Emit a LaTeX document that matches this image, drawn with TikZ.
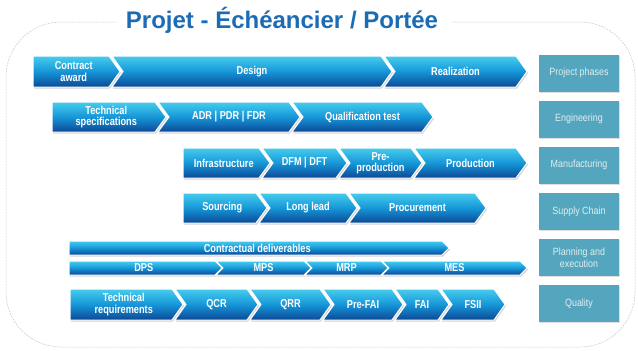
\documentclass[tikz,border=0pt]{standalone}
\usepackage{fontspec}
\setmainfont{Liberation Sans}
\newfontfamily\narrowfont{Liberation Sans}[FakeStretch=0.85]
\newfontfamily\chevfont{Liberation Sans}[FakeStretch=0.8]
\usetikzlibrary{shadows}

\definecolor{titleblue}{RGB}{27,107,181}
\definecolor{chevtop}{RGB}{70,205,238}
\definecolor{chevmid}{RGB}{22,150,215}
\definecolor{chevbot}{RGB}{12,72,150}
\definecolor{boxteal}{RGB}{84,166,190}
\definecolor{boxtext}{RGB}{225,238,242}
\definecolor{framegray}{RGB}{185,200,216}

\tikzset{
  chevbody/.style={draw=white, line width=1pt, top color=chevtop, bottom color=chevbot,
    middle color=chevmid, drop shadow={opacity=0.35, shadow xshift=1pt, shadow yshift=-1.5pt}},
  chevtext/.style={text=white, align=center, font=\chevfont\bfseries\fontsize{11.5}{11.5}\selectfont},
  phasebox/.style={fill=boxteal, minimum width=80pt, minimum height=37pt, text=boxtext,
    align=center, font=\narrowfont\fontsize{10.5}{12}\selectfont,
    drop shadow={opacity=0.25, shadow xshift=1pt, shadow yshift=-1pt}}
}

% chevron with notch: name, left, tip, top, bottom, depth, text
\newcommand{\chev}[7]{%
  \draw[chevbody] (#2,-#4) -- ({#3-#6},-#4) -- (#3,{-(#4+#5)/2}) -- ({#3-#6},-#5)
    -- (#2,-#5) -- ({#2+#6},{-(#4+#5)/2}) -- cycle;
  \node[chevtext] (#1) at ({(#2+#3)/2},{-(#4+#5)/2}) {#7};}
% first chevron of a row, flat left side
\newcommand{\firstchev}[7]{%
  \draw[chevbody] (#2,-#4) -- ({#3-#6},-#4) -- (#3,{-(#4+#5)/2}) -- ({#3-#6},-#5)
    -- (#2,-#5) -- cycle;
  \node[chevtext] (#1) at ({(#2+#3)/2-#6/4},{-(#4+#5)/2}) {#7};}

\begin{document}
\begin{tikzpicture}[x=1pt, y=1pt]
	\useasboundingbox (0,0) rectangle (638,-351);
	% frame
	\draw[framegray, line width=0.5pt, dash pattern=on 2pt off 1pt, rounded corners=55pt]
		(116,-22) -- (6,-22) -- (6,-347) -- (635,-347) -- (635,-22) -- (452,-22);
	\node[text=titleblue, font=\bfseries\fontsize{24}{26}\selectfont] (title) at (282,-20)
		{Projet - Échéancier / Portée};

	% project phases
	\firstchev{award}{33}{120}{56}{87}{11}{Contract\\award}
	\foreach \n/\a/\b/\t in {design/112/392/Design, real/384/527/Realization}
		\chev{\n}{\a}{\b}{56}{87}{11}{\t};
	% engineering
	\firstchev{spec}{52}{166}{102}{132}{11}{Technical\\specifications}
	\foreach \n/\a/\b/\t in {adr/158/300/{ADR | PDR | FDR}, qual/292/433/Qualification test}
		\chev{\n}{\a}{\b}{102}{132}{11}{\t};
	% manufacturing
	\firstchev{infra}{183}{270}{148}{178}{11}{Infrastructure}
	\foreach \n/\a/\b/\t in {dfm/262/347/{DFM | DFT}, preprod/339/422/{Pre-\\production},
		prod/414/527/Production}
		\chev{\n}{\a}{\b}{148}{178}{11}{\t};
	% supply chain
	\firstchev{sourcing}{183}{267}{193}{223}{11}{Sourcing}
	\foreach \n/\a/\b/\t in {longlead/259/357/Long lead, procure/349/486/Procurement}
		\chev{\n}{\a}{\b}{193}{223}{11}{\t};
	% planning and execution
	\firstchev{deliv}{69}{449}{241}{255}{7}{Contractual deliverables}
	\firstchev{dps}{69}{222}{261}{275}{7}{DPS}
	\foreach \n/\a/\b/\t in {mps/216/311/MPS, mrp/305/388/MRP, mes/382/527/MES}
		\chev{\n}{\a}{\b}{261}{275}{7}{\t};
	% quality
	\firstchev{techreq}{70}{183}{289}{320}{11}{Technical\\requirements}
	\foreach \n/\a/\b/\t in {qcr/175/258/QCR, qrr/250/331/QRR, prefai/323/403/Pre-FAI,
		fai/395/449/FAI, fsii/441/505/FSII}
		\chev{\n}{\a}{\b}{289}{320}{11}{\t};

	% categories
	\node[phasebox] (phases) at (579,-73) {Project phases};
	\node[phasebox] (eng) at (579,-119) {Engineering};
	\node[phasebox] (manuf) at (579,-165) {Manufacturing};
	\node[phasebox] (supply) at (579,-211.5) {Supply Chain};
	\node[phasebox] (plan) at (579,-257.5) {Planning and\\execution};
	\node[phasebox] (quality) at (579,-303.5) {Quality};
\end{tikzpicture}
\end{document}
